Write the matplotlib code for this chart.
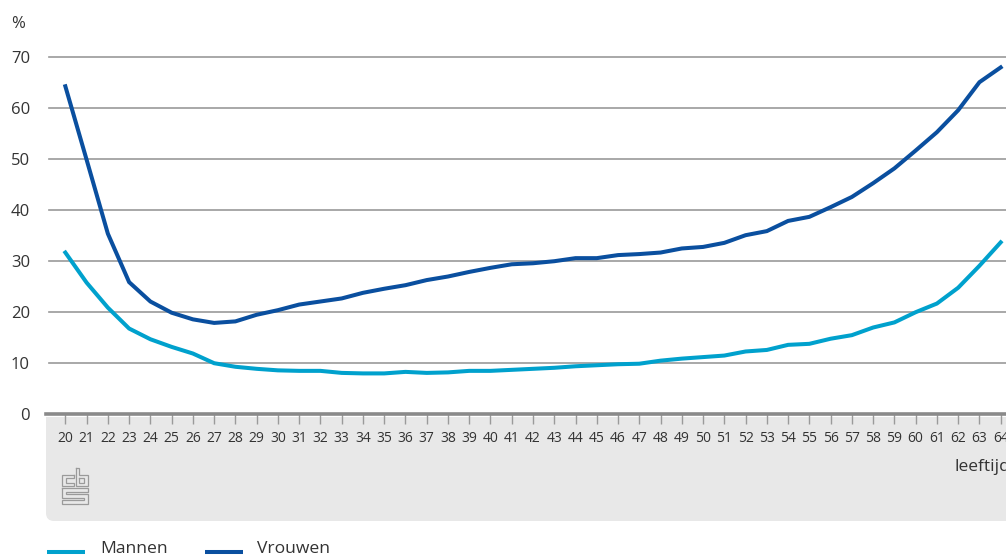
import matplotlib
matplotlib.use("Agg")
import matplotlib.pyplot as plt
from matplotlib.patches import Rectangle, FancyBboxPatch

# Percentage by age
ages = list(range(20, 65))
mannen = [31.6, 25.7, 20.8, 16.7, 14.6, 13.1, 11.8, 9.9, 9.2, 8.8,
          8.5, 8.4, 8.4, 8.0, 7.9, 7.9, 8.2, 8.0, 8.1, 8.4,
          8.4, 8.6, 8.8, 9.0, 9.3, 9.5, 9.7, 9.8, 10.4, 10.8,
          11.1, 11.4, 12.2, 12.5, 13.5, 13.7, 14.7, 15.4, 16.9, 17.9,
          19.9, 21.6, 24.7, 29.0, 33.6]
vrouwen = [64.2, 49.8, 35.3, 25.8, 22.0, 19.8, 18.5, 17.8, 18.1, 19.4,
           20.3, 21.4, 22.0, 22.6, 23.7, 24.5, 25.2, 26.2, 26.9, 27.8,
           28.6, 29.3, 29.5, 29.9, 30.5, 30.5, 31.1, 31.3, 31.6, 32.4,
           32.7, 33.5, 35.0, 35.8, 37.8, 38.6, 40.5, 42.5, 45.2, 48.1,
           51.6, 55.2, 59.5, 65.0, 67.9]
y_ticks = [0, 10, 20, 30, 40, 50, 60, 70]
series_names = ["Mannen", "Vrouwen"]
series_colors = ["#00a1cd", "#0a4f9f"]

W, H = 1006, 556
plt.rcParams["font.family"] = ["Open Sans", "DejaVu Sans"]
TEXT = "#333333"

fig = plt.figure(figsize=(W / 100, H / 100), dpi=100)


def box(x0, y0, x1, y1):
    """Pixel box (top-left origin) to figure fraction rect."""
    return [x0 / W, (H - y1) / H, (x1 - x0) / W, (y1 - y0) / H]


def fx(x):
    return x / W


def fy(y):
    return (H - y) / H


# grey footer band behind the x axis
band = FancyBboxPatch((fx(46), fy(521)), fx(1030) - fx(46), fy(417) - fy(521),
                      boxstyle="round,pad=0,rounding_size=0.008",
                      transform=fig.transFigure, facecolor="#e8e8e8",
                      edgecolor="none", zorder=-10, mutation_aspect=W / H)
fig.add_artist(band)
fig.add_artist(Rectangle((fx(46), fy(450)), fx(1030) - fx(46), fy(417) - fy(450),
                         transform=fig.transFigure, facecolor="#e8e8e8",
                         edgecolor="none", zorder=-9))

ax = fig.add_axes(box(46, 56.7, 1006, 413.7))
ax.patch.set_alpha(0)
ax.set_xlim(19.09, 64.25)
ax.set_ylim(0, 70)

for v in y_ticks[1:]:
    ax.axhline(v, xmin=3 / 960, xmax=1, color="#999999", lw=1.2, zorder=1,
               clip_on=False)

ax.plot(ages, mannen, color=series_colors[0], lw=2.9, zorder=3,
        solid_joinstyle="miter", clip_on=False)
ax.plot(ages, vrouwen, color=series_colors[1], lw=2.9, zorder=3,
        solid_joinstyle="miter", clip_on=False)

for s in ["top", "right", "left"]:
    ax.spines[s].set_visible(False)
ax.spines["bottom"].set_color("#8a8a8a")
ax.spines["bottom"].set_linewidth(2.6)

ax.set_xticks(ages)
ax.set_xticklabels([str(a) for a in ages], fontsize=10, color=TEXT)
ax.tick_params(axis="x", direction="out", length=7.5, width=1.0,
               color="#9a9a9a", pad=5.2)
ax.set_yticks(y_ticks)
ax.set_yticklabels([str(v) for v in y_ticks], fontsize=12, color=TEXT)
ax.tick_params(axis="y", length=0, pad=11.5)

fig.text(fx(11.5), fy(24), "%", fontsize=12, color=TEXT, va="center", ha="left")
fig.text(fx(954), fy(467), "leeftijd", fontsize=12.5, color=TEXT,
         va="center", ha="left")

# cbs logo drawn as outlined shapes (units: pixels from the logo's top-left)
lg = fig.add_axes(box(62, 467.3, 88, 504.3))
lg.set_xlim(-0.5, 26.5)
lg.set_ylim(37.5, -0.5)
lg.axis("off")
logo_col = "#9a9a9a"
shapes = [
    [(12, 7.3), (0, 7.3), (0, 19), (12, 19), (12, 15.5), (3.5, 15.5),
     (3.5, 10.8), (12, 10.8), (12, 7.3)],
    [(14, 0), (17.5, 0), (17.5, 7.3), (26, 7.3), (26, 19), (14, 19), (14, 0)],
    [(17.5, 10.8), (22.5, 10.8), (22.5, 15.5), (17.5, 15.5), (17.5, 10.8)],
    [(0, 21), (26, 21), (26, 24.5), (3.5, 24.5), (3.5, 27.3), (26, 27.3),
     (26, 37), (0, 37), (0, 33.5), (22.5, 33.5), (22.5, 30.8), (0, 30.8),
     (0, 21)],
]
for sh in shapes:
    xs, ys = zip(*sh)
    lg.plot(xs, ys, color=logo_col, lw=0.9, solid_joinstyle="miter",
            clip_on=False)

# legend
for name, col, x0, x1, xt in [(series_names[0], series_colors[0], 47, 85, 100),
                              (series_names[1], series_colors[1], 205, 242.5, 257)]:
    fig.add_artist(plt.Line2D([fx(x0), fx(x1)], [fy(552), fy(552)],
                              transform=fig.transFigure, color=col, lw=2.9,
                              solid_capstyle="butt"))
    fig.text(fx(xt), fy(553), name, fontsize=12.6, color=TEXT,
             va="baseline", ha="left")

fig.savefig("out.png", dpi=100)
